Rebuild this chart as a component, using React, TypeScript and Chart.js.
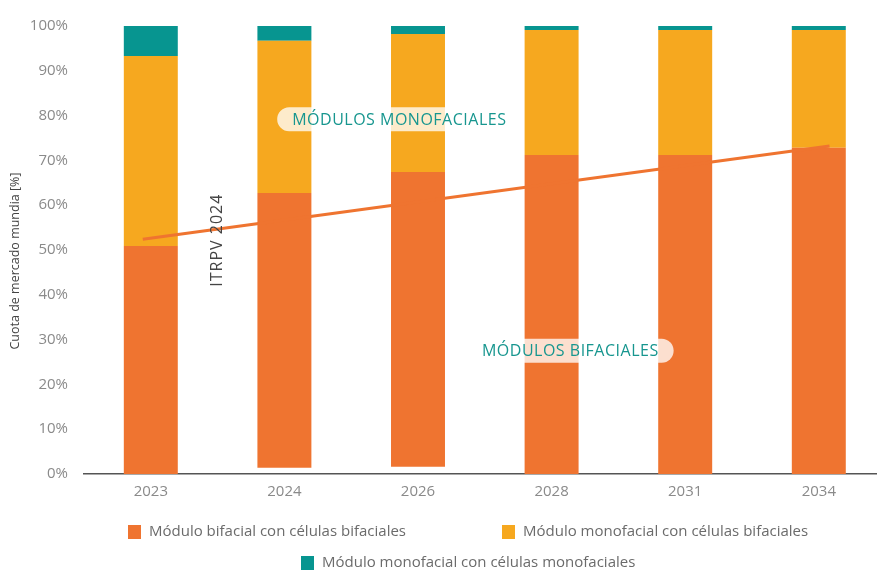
import React, { useEffect, useRef } from "react";
import { Chart, registerables } from "chart.js";

Chart.register(...registerables);

const categories = ["2023", "2024", "2026", "2028", "2031", "2034"];
const baseGap = [0, 1.4, 1.6, 0, 0, 0];
const bifacialBifacial = [50.9, 61.3, 65.8, 71.2, 71.2, 72.8];
const monoBifacial = [42.4, 34.0, 30.8, 27.9, 27.9, 26.3];
const monoMono = [6.7, 3.3, 1.8, 0.9, 0.9, 0.9];
const trendX = [-0.06, 5.08];
const trendY = [52.4, 73.2];

const seriesNames = [
  "Módulo bifacial con células bifaciales",
  "Módulo monofacial con células bifaciales",
  "Módulo monofacial con células monofaciales",
];
const yAxisTitle = "Cuota de mercado mundia [%]";
const annotationTexts = ["MÓDULOS MONOFACIALES", "MÓDULOS BIFACIALES", "ITRPV 2024"];
const annotationX = [1.86, 3.14, 0.5];
const annotationY = [79.2, 27.5, 52.2];

const ORANGE = "#ef7430";
const YELLOW = "#f6a81f";
const TEAL = "#079590";
const FONT = "'Open Sans', sans-serif";

const overlayPlugin = {
  id: "overlay",
  afterDatasetsDraw(chart: any) {
    const ctx = chart.ctx;
    const xs = chart.scales.xl;
    const ys = chart.scales.y;
    ctx.save();
    for (let i = 0; i < 2; i++) {
      const cx = xs.getPixelForValue(annotationX[i]);
      const cy = ys.getPixelForValue(annotationY[i]);
      ctx.font = `500 16px ${FONT}`;
      (ctx as any).letterSpacing = "0.5px";
      const w = ctx.measureText(annotationTexts[i]).width;
      const h = 24;
      const left = cx - w / 2 - 15;
      const right = cx + w / 2 + 15;
      ctx.fillStyle = "rgba(255,255,255,0.77)";
      ctx.beginPath();
      ctx.moveTo(left + h / 2, cy - h / 2);
      ctx.lineTo(right - h / 2, cy - h / 2);
      ctx.arc(right - h / 2, cy, h / 2, -Math.PI / 2, Math.PI / 2);
      ctx.lineTo(left + h / 2, cy + h / 2);
      ctx.arc(left + h / 2, cy, h / 2, Math.PI / 2, (3 * Math.PI) / 2);
      ctx.closePath();
      ctx.fill();
      ctx.fillStyle = "#17968f";
      ctx.textAlign = "center";
      ctx.textBaseline = "middle";
      ctx.fillText(annotationTexts[i], cx, cy + 1);
    }
    ctx.restore();
    ctx.save();
    const rx = xs.getPixelForValue(annotationX[2]);
    const ry = ys.getPixelForValue(annotationY[2]);
    ctx.translate(rx, ry);
    ctx.rotate(-Math.PI / 2);
    ctx.font = `16px ${FONT}`;
    (ctx as any).letterSpacing = "1px";
    ctx.fillStyle = "#444444";
    ctx.textAlign = "center";
    ctx.textBaseline = "middle";
    ctx.fillText(annotationTexts[2], 0, 0);
    ctx.restore();
  },
  afterDraw(chart: any) {
    const ctx = chart.ctx;
    const colors = [ORANGE, YELLOW, TEAL];
    const pos = [
      [128, 532],
      [502, 532],
      [301, 563],
    ];
    ctx.save();
    ctx.font = `15px ${FONT}`;
    ctx.textBaseline = "middle";
    ctx.textAlign = "left";
    for (let i = 0; i < 3; i++) {
      const [bx, cy] = pos[i];
      ctx.fillStyle = colors[i];
      ctx.fillRect(bx, cy - 7, 13, 14);
      ctx.fillStyle = "#6b6b6b";
      ctx.fillText(seriesNames[i], bx + 21, cy);
    }
    ctx.restore();
    ctx.save();
    ctx.translate(15, 261);
    ctx.rotate(-Math.PI / 2);
    ctx.font = `12.5px ${FONT}`;
    ctx.fillStyle = "#444444";
    ctx.textAlign = "center";
    ctx.textBaseline = "middle";
    ctx.fillText(yAxisTitle, 0, 0);
    ctx.restore();
  },
};

export default function App() {
  const ref = useRef<HTMLCanvasElement>(null);
  useEffect(() => {
    if (!ref.current) return;
    const barCommon = {
      barPercentage: 0.404,
      categoryPercentage: 1,
      order: 2,
      stack: "bar",
      grouped: false,
    };
    const chart = new Chart(ref.current, {
      type: "bar",
      data: {
        labels: categories,
        datasets: [
          { label: "base", data: baseGap, backgroundColor: "rgba(0,0,0,0)", ...barCommon },
          { label: seriesNames[0], data: bifacialBifacial, backgroundColor: ORANGE, ...barCommon },
          { label: seriesNames[1], data: monoBifacial, backgroundColor: YELLOW, ...barCommon },
          { label: seriesNames[2], data: monoMono, backgroundColor: TEAL, ...barCommon },
          {
            type: "line",
            label: "trend",
            data: trendX.map((x, i) => ({ x, y: trendY[i] })),
            xAxisID: "xl",
            yAxisID: "yl",
            stack: "trend",
            borderColor: ORANGE,
            borderWidth: 3,
            pointRadius: 0,
            fill: false,
            order: 0,
          } as any,
        ],
      },
      options: {
        responsive: false,
        animation: false,
        devicePixelRatio: 1,
        layout: { padding: { top: 26, right: 14.4, left: 0, bottom: 0 } },
        plugins: {
          legend: { display: false },
          tooltip: { enabled: false },
        },
        scales: {
          x: {
            stacked: true,
            offset: true,
            grid: { display: false, drawTicks: false },
            border: { display: true, color: "#555555", width: 1.5 },
            ticks: {
              color: "#8a8a8a",
              font: { family: FONT, size: 15 },
              padding: 9,
            },
            afterFit: (s: any) => {
              s.height = 96;
            },
          },
          y: {
            stacked: true,
            min: 0,
            max: 100,
            grid: { display: false, drawTicks: false },
            border: { display: false },
            ticks: {
              stepSize: 10,
              color: "#8a8a8a",
              font: { family: FONT, size: 15 },
              padding: 16,
              callback: (v: any) => `${v}%`,
            },
            afterFit: (s: any) => {
              s.width = 84;
            },
          },
          xl: {
            type: "linear",
            display: false,
            offset: false,
            min: -0.5,
            max: 5.5,
          },
          yl: {
            type: "linear",
            display: false,
            offset: false,
            min: 0,
            max: 100,
          },
        },
      } as any,
      plugins: [overlayPlugin],
    });
    return () => chart.destroy();
  }, []);
  return (
    <div
      style={{
        position: "absolute",
        left: 0,
        top: 0,
        width: 877,
        height: 570,
        overflow: "hidden",
        background: "#fff",
      }}
    >
      <canvas ref={ref} width={900} height={570} style={{ width: 900, height: 570, display: "block" }} />
    </div>
  );
}
